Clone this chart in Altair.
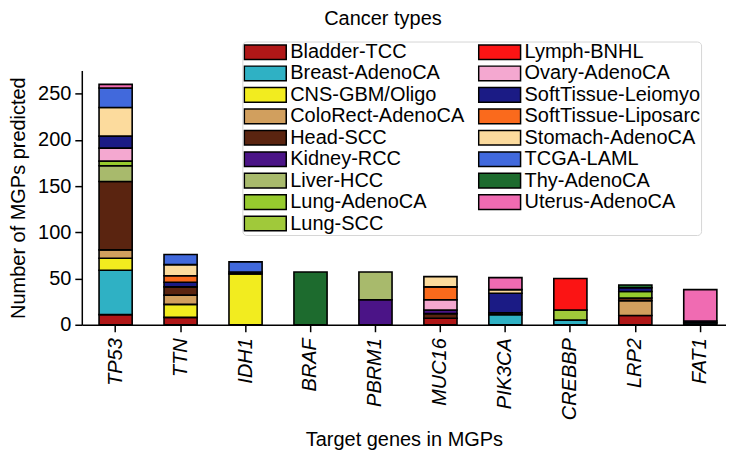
import altair as alt
import pandas as pd

genes = ["TP53", "TTN", "IDH1", "BRAF", "PBRM1", "MUC16", "PIK3CA", "CREBBP", "LRP2", "FAT1"]

cancers = ["Bladder-TCC", "Breast-AdenoCA", "CNS-GBM/Oligo", "ColoRect-AdenoCA", "Head-SCC",
           "Kidney-RCC", "Liver-HCC", "Lung-AdenoCA", "Lung-SCC", "Lymph-BNHL", "Ovary-AdenoCA",
           "SoftTissue-Leiomyo", "SoftTissue-Liposarc", "Stomach-AdenoCA", "TCGA-LAML",
           "Thy-AdenoCA", "Uterus-AdenoCA"]

colors = ["#b01717", "#2fb1c4", "#f2ec1f", "#d19f5e", "#5a2410",
          "#4b1487", "#a8ba6c", "#97cb2e", "#a0c93a", "#fb1414", "#f4a8d0",
          "#1b1b85", "#fa6a1c", "#fcdb9d", "#4169dc",
          "#1d6b2e", "#f06bb2"]

# counts per gene, per cancer type (same order as `cancers`)
TP53   = [11, 48, 13, 9, 74, 0, 17, 5, 0, 0, 14, 13, 0, 31, 21, 0, 4]
TTN    = [8, 0, 14, 10, 9, 0, 0, 0, 0, 0, 0, 5, 7, 12, 11, 0, 0]
IDH1   = [0, 0, 55, 0, 0, 0, 0, 0, 0, 0, 0, 2, 0, 0, 11, 0, 0]
BRAF   = [0, 0, 0, 0, 0, 0, 0, 0, 0, 0, 0, 0, 0, 0, 0, 57, 0]
PBRM1  = [0, 0, 0, 0, 0, 27, 30, 0, 0, 0, 0, 0, 0, 0, 0, 0, 0]
MUC16  = [7, 0, 0, 0, 5, 4, 0, 0, 0, 0, 11, 0, 14, 11, 0, 0, 0]
PIK3CA = [0, 11, 0, 0, 2, 0, 0, 0, 0, 0, 0, 21, 0, 4, 0, 0, 13]
CREBBP = [0, 5, 0, 0, 0, 0, 0, 0, 11, 34, 0, 0, 0, 0, 0, 0, 0]
LRP2   = [10, 0, 0, 16, 3, 0, 0, 7, 0, 0, 0, 4, 0, 0, 0, 3, 0]
FAT1   = [0, 2, 0, 0, 0, 0, 0, 0, 0, 0, 0, 2, 0, 0, 0, 0, 34]

y_ticks = [0, 50, 100, 150, 200, 250]

series = [TP53, TTN, IDH1, BRAF, PBRM1, MUC16, PIK3CA, CREBBP, LRP2, FAT1]
rows = []
for g, vals in zip(genes, series):
    for i, (c, v) in enumerate(zip(cancers, vals)):
        if v > 0:
            rows.append({"gene": g, "cancer": c, "count": v, "idx": i})
df = pd.DataFrame(rows)

FONT = "Liberation Sans"

chart = alt.Chart(df).mark_bar(stroke="black", strokeWidth=1.6).encode(
    x=alt.X("gene:N", sort=genes, title="Target genes in MGPs",
            scale=alt.Scale(paddingInner=0.49, paddingOuter=0.203, align=0.654),
            axis=alt.Axis(labelAngle=-90, labelFontStyle="italic", labelFontSize=20,
                          titleFontSize=20, tickSize=7, labelPadding=6, titlePadding=10)),
    y=alt.Y("count:Q", stack="zero", title="Number of MGPs predicted",
            scale=alt.Scale(domain=[0, 275], nice=False),
            axis=alt.Axis(values=y_ticks, grid=False, labelFontSize=20, titleFontSize=20,
                          tickSize=7, labelPadding=4, titlePadding=9)),
    color=alt.Color("cancer:N",
                    scale=alt.Scale(domain=cancers, range=colors),
                    legend=alt.Legend(title=None, orient="none", legendX=161, legendY=-29,
                                      columns=2, columnPadding=13, rowPadding=0.5,
                                      clipHeight=19, padding=1,
                                      symbolType="M-1,-0.35H1V0.35H-1Z", symbolSize=1764,
                                      symbolStrokeColor="black", symbolStrokeWidth=1.5,
                                      symbolOpacity=1,
                                      labelFontSize=20, labelFont=FONT, labelOffset=3,
                                      labelLimit=300, labelColor="black",
                                      fillColor="white", strokeColor="#d6d6d6",
                                      cornerRadius=4)),
    order=alt.Order("idx:Q", sort="ascending"),
).properties(
    width=646, height=255,
    title=alt.TitleParams("Cancer types", anchor="middle", dx=-21, offset=12,
                          fontSize=20, fontWeight="normal", font=FONT, color="black"),
    autosize=alt.AutoSizeParams(type="none"),
    padding={"left": 74, "top": 62, "right": 0, "bottom": 140},
).configure_axis(
    domainColor="black", domainWidth=1.5, tickColor="black", tickWidth=1.5,
    labelColor="black", titleColor="black", labelFont=FONT, titleFont=FONT,
    titleFontWeight="normal",
).configure_view(strokeWidth=0)

chart.save("out.html", embed_options={"renderer": "svg", "actions": False})
